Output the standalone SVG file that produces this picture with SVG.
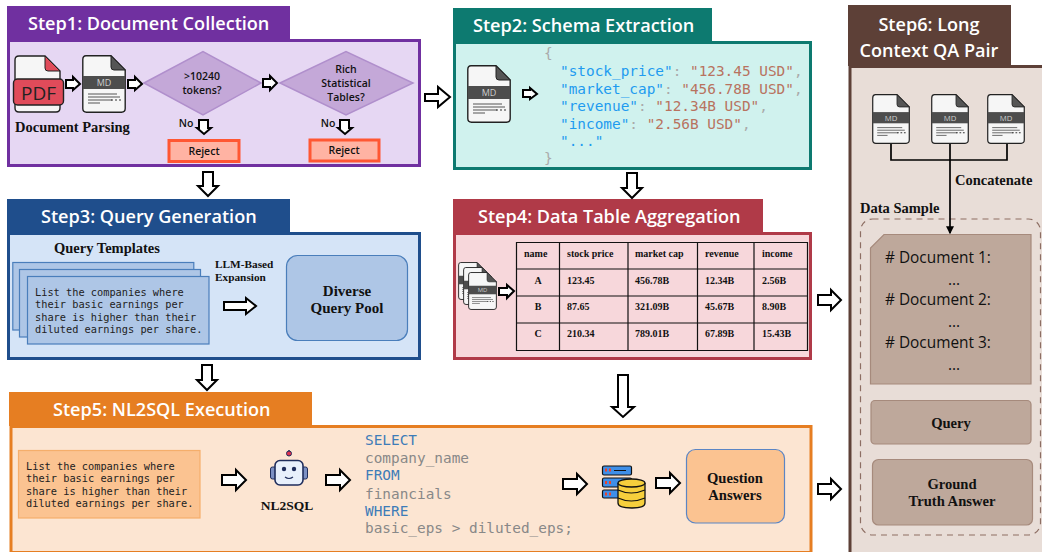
<svg xmlns="http://www.w3.org/2000/svg" xmlns:xlink="http://www.w3.org/1999/xlink" width="1042" height="552" viewBox="0 0 1042 552">
<style>
text{font-family:"Liberation Serif",serif;fill:#111}
.h{font-family:"Open Sans",sans-serif;font-weight:600;font-size:18.100px;fill:#fff}
.s{font-weight:700;font-size:14.600px}
.b{font-weight:700;font-size:15px}
.t{font-weight:700;font-size:10px}
.o{font-family:"Open Sans",sans-serif;font-weight:600;font-size:10.500px;text-anchor:middle}
.m{font-family:"DejaVu Sans Mono",monospace;font-size:10.300px;fill:#222}
.j{font-family:"DejaVu Sans Mono",monospace;font-size:14.400px}
.q{font-family:"DejaVu Sans Mono",monospace;font-size:14.400px;fill:#888}
.k{fill:#3E7CB8!important}
.d{font-family:"Open Sans",sans-serif;font-size:15.400px;fill:#111}
.c{text-anchor:middle}
.arr{fill:#fff;stroke:#000;stroke-width:2}
.ln{fill:none;stroke:#000;stroke-width:1.700}
.cell{stroke:#111;stroke-width:1.200;fill:none}
</style>
<defs>
<symbol id="doc" viewBox="0 0 44 58" overflow="visible">
<path d="M4 .8H29L43.2 15V53.5Q43.2 57.2 39.5 57.2H4.5Q.8 57.2.8 53.5V4.5Q.8.8 4 .8Z" fill="#f6f6f6" stroke="#222" stroke-width="1.400"/>
<path d="M29 .8L43.2 15H32Q29 15 29 12Z" fill="#555" stroke="#222" stroke-width="1"/>
<rect x=".8" y="21" width="42.400" height="13" fill="#4d4d4d"/>
<text x="22" y="31" text-anchor="middle" style="font-family:'Open Sans',sans-serif;font-size:9px;fill:#ccc">MD</text>
<path d="M6 39H35M6 42H38M6 45H30M6 48H18" stroke="#555" stroke-width="1" fill="none"/>
<path d="M29 45h2M33 45h2M37 45h2" stroke="#333" stroke-width="1.200"/>
</symbol>
<marker id="ah" markerWidth="8" markerHeight="8" refX="5" refY="3" orient="auto" markerUnits="userSpaceOnUse" viewBox="0 0 6 6"><path d="M0 0L6 3L0 6Z" fill="#000"/></marker>
</defs>

<g id="step1">
<rect x="8.500" y="40.500" width="411" height="125" fill="#E6D7F3" stroke="#7030A0" stroke-width="3"/>
<rect x="7" y="6" width="283" height="34" fill="#7030A0"/>
<text class="h" x="28" y="29.500">Step1: Document Collection</text>
<g id="pdf-icon">
<path d="M19 56H45L60 71V108Q60 112 56 112H19Q15 112 15 108V60Q15 56 19 56Z" fill="#f6f6f6" stroke="#222" stroke-width="1.400"/>
<path d="M45 56L60 71H48Q45 71 45 68Z" fill="#E04B5A" stroke="#222"/>
<rect x="13.500" y="79" width="50" height="26" rx="4" fill="#E04B5A" stroke="#222" stroke-width="1.400"/>
<text x="38.500" y="100" text-anchor="middle" style="font-family:'Open Sans',sans-serif;font-size:19px;fill:#222">PDF</text>
</g>
<use xlink:href="#doc" href="#doc" x="82" y="55" width="44" height="58"/>
<text x="15" y="132" style="font-weight:700;font-size:14.500px">Document Parsing</text>
<polygon points="144,83 203,51.500 261,83 203,115" fill="#C4A8D8" stroke="#B08FCC" stroke-width="1.500"/>
<text class="o" x="202" y="80">&gt;10240</text><text class="o" x="202" y="94">tokens?</text>
<polygon points="280,83 346,51.500 413,83 346,115" fill="#C4A8D8" stroke="#B08FCC" stroke-width="1.500"/>
<text class="o" x="346" y="73">Rich</text><text class="o" x="346" y="87">Statistical</text><text class="o" x="346" y="101">Tables?</text>
<text class="o" x="186" y="127">No</text><text class="o" x="328" y="127">No</text>
<rect x="169" y="140.500" width="70" height="21" fill="#FFB3A3" stroke="#FF5733" stroke-width="3"/>
<text class="o" x="204" y="155">Reject</text>
<rect x="310" y="140" width="69" height="21" fill="#FFB3A3" stroke="#FF5733" stroke-width="3"/>
<text class="o" x="344" y="154">Reject</text>
</g>

<g id="step2">
<rect x="454.500" y="42.500" width="356" height="126" fill="#D0F2EE" stroke="#0D7A70" stroke-width="3"/>
<rect x="453" y="8" width="259" height="34" fill="#0D7A70"/>
<text class="h" x="473" y="32">Step2: Schema Extraction</text>
<use xlink:href="#doc" href="#doc" x="467" y="65" width="44" height="58"/>
<text class="j" x="544" y="58" style="fill:#aaa">{</text>
<text class="j" x="560" y="76"><tspan fill="#1E9BF0">"stock_price"</tspan><tspan fill="#aaa">: </tspan><tspan fill="#B8735F">"123.45 USD"</tspan><tspan fill="#aaa">,</tspan></text>
<text class="j" x="560" y="94"><tspan fill="#1E9BF0">"market_cap"</tspan><tspan fill="#aaa">: </tspan><tspan fill="#B8735F">"456.78B USD"</tspan><tspan fill="#aaa">,</tspan></text>
<text class="j" x="560" y="111"><tspan fill="#1E9BF0">"revenue"</tspan><tspan fill="#aaa">: </tspan><tspan fill="#B8735F">"12.34B USD"</tspan><tspan fill="#aaa">,</tspan></text>
<text class="j" x="560" y="129"><tspan fill="#1E9BF0">"income"</tspan><tspan fill="#aaa">: </tspan><tspan fill="#B8735F">"2.56B USD"</tspan><tspan fill="#aaa">,</tspan></text>
<text class="j" x="560" y="146" style="fill:#1E9BF0">"..."</text>
<text class="j" x="544" y="163" style="fill:#aaa">}</text>
</g>

<g id="step3">
<rect x="8.500" y="233.500" width="411" height="125" fill="#D5E4F7" stroke="#1F4E8C" stroke-width="3"/>
<rect x="7" y="199" width="283" height="34" fill="#1F4E8C"/>
<text class="h" x="41" y="222.500">Step3: Query Generation</text>
<text x="54" y="253" style="font-weight:700;font-size:14.500px">Query Templates</text>
<rect x="12.800" y="262.500" width="181" height="67.500" fill="#AEC6E6" stroke="#4A7EBB" stroke-width="1.200"/>
<rect x="19.500" y="269.500" width="181" height="67.500" fill="#AEC6E6" stroke="#4A7EBB" stroke-width="1.200"/>
<rect x="27.500" y="276.500" width="181.500" height="67.500" fill="#AEC6E6" stroke="#4A7EBB" stroke-width="1.200"/>
<text class="m" x="35" y="296">List the companies where</text>
<text class="m" x="35" y="308">their basic earnings per</text>
<text class="m" x="35" y="321">share is higher than their</text>
<text class="m" x="35" y="333">diluted earnings per share.</text>
<text x="215" y="268" style="font-weight:700;font-size:11.300px">LLM-Based</text>
<text x="215" y="281" style="font-weight:700;font-size:11.300px">Expansion</text>
<rect x="286.500" y="255.500" width="121" height="85" rx="11" fill="#AEC6E6" stroke="#4A7EBB" stroke-width="1.200"/>
<text class="b c" x="347" y="296">Diverse</text><text class="b c" x="347" y="313">Query Pool</text>
</g>

<g id="step4">
<rect x="454.500" y="233.500" width="356" height="125" fill="#F7D7DB" stroke="#B03A48" stroke-width="3"/>
<rect x="453" y="199" width="310" height="34" fill="#B03A48"/>
<text class="h" x="478" y="222.500">Step4: Data Table Aggregation</text>
<use xlink:href="#doc" href="#doc" x="458" y="262" width="29" height="38"/>
<use xlink:href="#doc" href="#doc" x="463" y="267" width="29" height="38"/>
<use xlink:href="#doc" href="#doc" x="468" y="272" width="29" height="38"/>
<g id="table">
<path class="cell" d="M516.500 242.500H807.500V350.500H516.500ZM516.500 269H807.500M516.500 296H807.500M516.500 323H807.500M559.500 242.500V350.500M628 242.500V350.500M697.500 242.500V350.500M754 242.500V350.500"/>
<text class="t" x="524" y="257">name</text><text class="t" x="567" y="257">stock price</text><text class="t" x="635" y="257">market cap</text><text class="t" x="705" y="257">revenue</text><text class="t" x="762" y="257">income</text>
<text class="t c" x="538" y="284">A</text><text class="t" x="567" y="284">123.45</text><text class="t" x="635" y="284">456.78B</text><text class="t" x="705" y="284">12.34B</text><text class="t" x="762" y="284">2.56B</text>
<text class="t c" x="538" y="310">B</text><text class="t" x="567" y="310">87.65</text><text class="t" x="635" y="310">321.09B</text><text class="t" x="705" y="310">45.67B</text><text class="t" x="762" y="310">8.90B</text>
<text class="t c" x="538" y="337">C</text><text class="t" x="567" y="337">210.34</text><text class="t" x="635" y="337">789.01B</text><text class="t" x="705" y="337">67.89B</text><text class="t" x="762" y="337">15.43B</text>
</g>
</g>

<g id="step5">
<rect x="11" y="426.500" width="800" height="126" fill="#FCE5D2" stroke="#E67E22" stroke-width="3"/>
<rect x="9" y="392" width="303" height="34" fill="#E67E22"/>
<text class="h" x="53" y="415.500">Step5: NL2SQL Execution</text>
<rect x="18.500" y="450.500" width="181.500" height="67.500" fill="#FBC391" stroke="#F5AE6B" stroke-width="1.200"/>
<text class="m" x="26" y="470">List the companies where</text>
<text class="m" x="26" y="482">their basic earnings per</text>
<text class="m" x="26" y="495">share is higher than their</text>
<text class="m" x="26" y="507">diluted earnings per share.</text>
<g id="robot">
<path d="M289 456V450" stroke="#1F2D5C" stroke-width="1.500"/>
<circle cx="289" cy="453.500" r="2.500" fill="#E0314F" stroke="#1F2D5C"/>
<rect x="270.500" y="467" width="6" height="12" rx="2" fill="#7C90C4" stroke="#1F2D5C"/>
<rect x="301.500" y="467" width="6" height="12" rx="2" fill="#7C90C4" stroke="#1F2D5C"/>
<rect x="275" y="460.500" width="28" height="24.500" rx="5" fill="#E8F0FC" stroke="#1F2D5C" stroke-width="1.600"/>
<circle cx="284" cy="469" r="2.200" fill="#1F2D5C"/><circle cx="294" cy="469" r="2.200" fill="#1F2D5C"/>
<path d="M285 477Q289 480 293 477" fill="none" stroke="#1F2D5C" stroke-width="1.200"/>
</g>
<text x="287" y="510" class="c" style="font-weight:700;font-size:13.500px">NL2SQL</text>
<text class="q k" x="365" y="445">SELECT</text>
<text class="q" x="365" y="463">company_name</text>
<text class="q k" x="365" y="480">FROM</text>
<text class="q" x="365" y="499">financials</text>
<text class="q k" x="365" y="516">WHERE</text>
<text class="q" x="365" y="533">basic_eps &gt; diluted_eps;</text>
<g id="db">
<g fill="#3F8FE8" stroke="#111" stroke-width="1.200">
<rect x="602.500" y="466" width="29" height="9" rx="1.500"/><rect x="602.500" y="478" width="29" height="9" rx="1.500"/><rect x="602.500" y="490" width="29" height="8" rx="1.500"/>
</g>
<path d="M605 468.500h2v3h-2zM609 468.500h2v3h-2zM605 481h2v3h-2zM609 481h2v3h-2zM605 492.500h2v3h-2zM609 492.500h2v3h-2z" fill="#E8442E"/>
<path d="M614 470.500h12" stroke="#111" stroke-width="1"/>
<path d="M618 483V503Q618 508 632 508Q645 508 645 503V483" fill="#F6CF3C" stroke="#111" stroke-width="1.300"/>
<ellipse cx="631.500" cy="483" rx="13.500" ry="4" fill="#F6CF3C" stroke="#111" stroke-width="1.300"/>
<path d="M618 490Q631 496 645 490M618 498Q631 504 645 498" fill="none" stroke="#111" stroke-width="1.200"/>
</g>
<rect x="686.500" y="449.500" width="98" height="73.500" rx="9" fill="#FBC391" stroke="#5B85C4" stroke-width="1.200"/>
<text class="s c" x="735" y="483">Question</text><text class="s c" x="735" y="500">Answers</text>
</g>

<g id="step6">
<rect x="850" y="66.500" width="200" height="500" fill="#E8DDD7" stroke="#5D4037" stroke-width="3"/>
<rect x="848" y="5" width="163" height="61" fill="#5D4037"/>
<text class="h c" x="929" y="31">Step6: Long</text>
<text class="h c" x="929" y="56.500">Context QA Pair</text>
<use xlink:href="#doc" href="#doc" x="872" y="94" width="38" height="50"/>
<use xlink:href="#doc" href="#doc" x="931" y="94" width="38" height="50"/>
<use xlink:href="#doc" href="#doc" x="987" y="94" width="38" height="50"/>
<text x="955" y="185" style="font-weight:700;font-size:14.500px">Concatenate</text>
<text x="860" y="213" style="font-weight:700;font-size:14.500px">Data Sample</text>
<rect x="860.500" y="219" width="180" height="316" rx="12" fill="none" stroke="#8D6E63" stroke-width="1.200" stroke-dasharray="6 5"/>
<polygon points="884,234.500 1031,234.500 1031,384 870.500,384 870.500,248" fill="#BEA89B" stroke="#A68A7C" stroke-width="1.200"/>
<text class="d" x="885" y="263"># Document 1:</text>
<text class="d c" x="954" y="285">...</text>
<text class="d" x="885" y="305"># Document 2:</text>
<text class="d c" x="954" y="327">...</text>
<text class="d" x="885" y="348"># Document 3:</text>
<text class="d c" x="954" y="370">...</text>
<rect x="871" y="400.500" width="160" height="43.500" rx="4" fill="#BEA89B" stroke="#A68A7C" stroke-width="1.200"/>
<text class="s c" x="951" y="428">Query</text>
<rect x="872.500" y="459.500" width="160" height="65.500" rx="6" fill="#BEA89B" stroke="#A68A7C" stroke-width="1.200"/>
<text class="s c" x="952" y="489">Ground</text>
<text class="s c" x="952" y="506">Truth Answer</text>
</g>

<g id="connectors">
<polyline class="ln" points="891,144 891,160 1007,160 1007,144"/>
<line class="ln" x1="950" y1="144" x2="950" y2="233" marker-end="url(#ah)"/>
<polygon class="arr" points="66,80 73,80 73,77 80,84 73,90 73,88 66,88"/>
<polygon class="arr" points="128,80 135,80 135,77 142,84 135,90 135,88 128,88"/>
<polygon class="arr" points="263,79 270,79 270,76 277,83 270,90 270,87 263,87"/>
<polygon class="arr" points="199,120 208,120 208,128 211,128 204,134 197,128 199,128"/>
<polygon class="arr" points="340,120 349,120 349,128 352,128 345,134 338,128 340,128"/>
<polygon class="arr" points="425,94 438,94 438,87 450,97 438,107 438,101 425,101"/>
<polygon class="arr" points="203,172 213,172 213,186 218,186 208,196 198,186 203,186"/>
<polygon class="arr" points="523,90 530,90 530,88 537,94 530,99 530,97 523,97"/>
<polygon class="arr" points="627,173 637,173 637,188 642,188 632,198 622,188 627,188"/>
<polygon class="arr" points="224,302 246,302 246,298 256,306 246,314 246,310 224,310"/>
<polygon class="arr" points="202,365 212,365 212,380 217,380 207,390 197,380 202,380"/>
<polygon class="arr" points="499,288 507,288 507,285 514,291 507,298 507,295 499,295"/>
<polygon class="arr" points="618,375 628,375 628,407 634,407 623,417 612,407 618,407"/>
<polygon class="arr" points="818,295 831,295 831,290 841,300 831,310 831,305 818,305"/>
<polygon class="arr" points="222,475 236,475 236,470 246,480 236,490 236,485 222,485"/>
<polygon class="arr" points="326,475 340,475 340,470 350,480 340,490 340,485 326,485"/>
<polygon class="arr" points="563,479 577,479 577,474 587,484 577,494 577,489 563,489"/>
<polygon class="arr" points="656,478 670,478 670,473 680,483 670,493 670,488 656,488"/>
<polygon class="arr" points="818,484 831,484 831,479 841,489 831,499 831,494 818,494"/>
</g>
</svg>
